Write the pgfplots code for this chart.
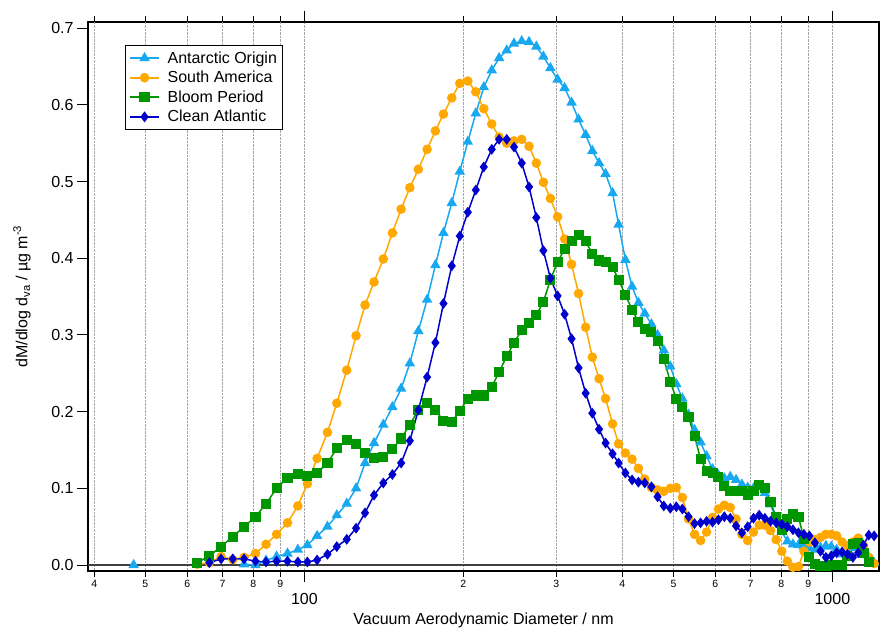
\documentclass[border=0pt]{standalone}
\usepackage{pgfplots}
\pgfplotsset{compat=1.18}
\usepackage{pgfplotstable}
\usepackage{fontspec}
\setmainfont{Liberation Sans}
\definecolor{cant}{RGB}{24,168,240}
\definecolor{csam}{RGB}{255,168,0}
\definecolor{cbloom}{RGB}{0,150,0}
\definecolor{cclean}{RGB}{0,0,204}

\pgfplotstableread{
d ant sam bloom clean
47.5 0.000 nan nan nan
50.1 nan nan nan nan
53.05 nan nan nan nan
56.15 nan nan nan nan
59.38 nan nan nan nan
62.7 nan 0.001 0.003 nan
66.1 nan 0.003 0.012 0.003
69.55 nan 0.011 0.024 0.008
73.2 nan 0.007 0.037 0.008
76.9 0.001 0.010 0.050 0.008
80.8 0.000 0.015 0.063 0.005
84.6 0.006 0.027 0.080 0.004
88.6 0.011 0.040 0.100 0.005
92.9 0.015 0.055 0.114 0.005
97.2 0.020 0.077 0.119 0.004
101.3 0.026 0.106 0.116 0.004
105.7 0.038 0.139 0.120 0.0065
110.6 0.050 0.173 0.133 0.014
115.2 0.065 0.211 0.152 0.024
120.3 0.080 0.254 0.163 0.0335
125.3 0.100 0.299 0.158 0.048
130.3 0.133 0.339 0.146 0.068
135.5 0.159 0.369 0.139 0.091
141.1 0.183 0.399 0.141 0.107
146.8 0.206 0.433 0.151 0.118
152.5 0.230 0.464 0.165 0.133
158.4 0.263 0.492 0.183 0.162
164.4 0.305 0.516 0.202 0.202
170.8 0.346 0.542 0.211 0.245
177.1 0.391 0.566 0.202 0.290
183.4 0.433 0.588 0.188 0.341
190.2 0.472 0.609 0.186 0.390
197.0 0.513 0.628 0.201 0.429
204.0 0.552 0.631 0.217 0.460
211.2 0.589 0.617 0.221 0.489
218.7 0.623 0.595 0.221 0.519
226.4 0.645 0.575 0.232 0.542
233.8 0.661 0.558 0.252 0.555
241.7 0.671 0.550 0.272 0.555
249.5 0.680 0.553 0.290 0.545
258.0 0.683 0.555 0.306 0.524
266.4 0.682 0.546 0.316 0.493
275.0 0.676 0.524 0.326 0.453
283.6 0.663 0.499 0.343 0.410
292.4 0.648 0.478 0.372 0.374
301.7 0.633 0.454 0.395 0.351
311.1 0.622 0.425 0.412 0.327
320.7 0.603 0.392 0.423 0.295
330.6 0.581 0.354 0.430 0.257
341.0 0.561 0.310 0.422 0.224
351.1 0.540 0.271 0.406 0.198
361.6 0.524 0.243 0.397 0.177
372.0 0.510 0.217 0.395 0.159
383.5 0.485 0.184 0.388 0.145
393.7 0.444 0.158 0.372 0.133
405.5 0.398 0.146 0.352 0.120
417.5 0.363 0.138 0.333 0.111
429.2 0.342 0.126 0.317 0.108
441.3 0.328 0.112 0.308 0.107
454.2 0.314 0.101 0.304 0.102
466.6 0.300 0.098 0.292 0.089
479.4 0.280 0.096 0.269 0.077
493.2 0.259 0.100 0.239 0.074
506.3 0.236 0.101 0.217 0.076
519.9 0.217 0.088 0.206 0.073
534.0 0.196 0.060 0.193 0.063
548.3 0.176 0.040 0.168 0.054
562.9 0.160 0.032 0.138 0.055
577.8 0.142 0.043 0.123 0.057
593.1 0.125 0.062 0.120 0.056
608.5 0.117 0.073 0.115 0.059
624.4 0.113 0.078 0.103 0.063
640.7 0.115 0.075 0.096 0.061
657.1 0.111 0.060 0.096 0.051
674.0 0.105 0.040 0.096 0.042
691.3 0.101 0.032 0.092 0.050
709.0 0.100 0.043 0.096 0.061
726.8 0.102 0.052 0.104 0.065
745.1 0.094 0.052 0.101 0.061
763.8 0.079 0.045 0.082 0.057
782.7 0.060 0.033 0.062 0.055
802.0 0.043 0.018 0.046 0.053
821.8 0.031 0.005 0.060 0.050
842.1 0.027 -0.003 0.066 0.046
862.5 0.026 -0.002 0.063 0.042
883.4 0.024 0.018 0.034 0.040
904.8 0.022 0.030 0.010 0.038
926.8 0.020 0.033 0.001 0.029
949.5 0.023 0.036 -0.001 0.018
972.2 0.025 0.040 -0.001 0.010
995.2 0.024 0.040 0.000 0.012
1018.8 0.020 0.038 0.000 0.016
1043.2 0.014 0.030 0.000 0.017
1068.0 0.015 0.025 0.012 0.014
1093.7 0.022 0.030 0.027 0.010
1119.3 0.033 0.035 0.029 0.016
1145.4 0.018 0.025 0.016 0.026
1172.1 0.010 0.010 0.004 0.039
1199.6 0.003 0.002 nan 0.038
}\data

\begin{document}
\begin{tikzpicture}
\begin{axis}[
  scale only axis, width=791pt, height=549pt,
  xmode=log, xmin=38.93, xmax=1225.6, ymin=-0.0078, ymax=0.708,
  axis line style={line width=1.3pt},
  every tick/.style={black, line width=1pt},
  tick align=outside,
  major tick length=11pt,
  xminorticks=false, yminorticks=false,
  xtick pos=both, ytick pos=left, xticklabel pos=bottom,
  xtick={100,1000}, xticklabels={100,1000},
  xticklabel shift=8pt,
  extra x ticks={40,50,60,70,80,90,200,300,400,500,600,700,800,900},
  extra x tick labels={4,5,6,7,8,9,2,3,4,5,6,7,8,9},
  extra x tick style={major tick length=6pt, grid=major, xticklabel shift=0pt,
     tick label style={font=\fontsize{10.5}{12}\selectfont}},
  ytick={0,0.1,0.2,0.3,0.4,0.5,0.6,0.7},
  yticklabels={0.0,0.1,0.2,0.3,0.4,0.5,0.6,0.7},
  extra y ticks={0}, extra y tick labels={},
  extra y tick style={grid=major, grid style={solid, black!75, line width=1.3pt}},
  ticklabel style={font=\fontsize{16}{19}\selectfont},
  xmajorgrids,
  grid style={densely dotted, black!35, line width=0.7pt},
  unbounded coords=jump,
  xlabel={Vacuum Aerodynamic Diameter / nm},
  ylabel={dM/dlog d\textsubscript{va} / µg m\textsuperscript{-3}},
  every axis x label/.style={at={(axis description cs:0.5,-0.0893)}, anchor=center, font=\fontsize{16}{19}\selectfont},
  every axis y label/.style={at={(axis description cs:-0.0834,0.5)}, anchor=center, rotate=90, font=\fontsize{16}{19}\selectfont},
  legend style={at={(0.0468,0.958)}, anchor=north west, draw=black, line width=1pt,
     font=\fontsize{16}{19}\selectfont, row sep=2.5pt, inner xsep=4pt, inner ysep=4pt,
     /tikz/every odd column/.append style={column sep=6pt}},
  legend cell align=left,
  legend image code/.code={\draw[line width=1.6pt, mark repeat=2,mark phase=2] plot coordinates {(0cm,0cm) (0.5cm,0cm) (1cm,0cm)};},
  every axis plot/.append style={line width=1.5pt},
]
\addplot[color=cant, mark=triangle*, mark size=4.6pt] table[x=d,y=ant] {\data};
\addlegendentry{Antarctic Origin}
\addplot[color=csam, mark=*, mark size=4pt] table[x=d,y=sam] {\data};
\addlegendentry{South America}
\addplot[color=cbloom, mark=square*, mark size=4.3pt] table[x=d,y=bloom] {\data};
\addlegendentry{Bloom Period}
\addplot[color=cclean, mark=diamond*, mark size=4.2pt] table[x=d,y=clean] {\data};
\addlegendentry{Clean Atlantic}
\node[font=\fontsize{16}{19}\selectfont] at (axis description cs:-0.081,0.989) {(a)};
\coordinate (sw) at (rel axis cs:0,0);
\end{axis}
\pgfresetboundingbox
\path[use as bounding box] (sw) ++(-88pt,-59pt) rectangle ++(881pt,630pt);
\end{tikzpicture}
\end{document}
